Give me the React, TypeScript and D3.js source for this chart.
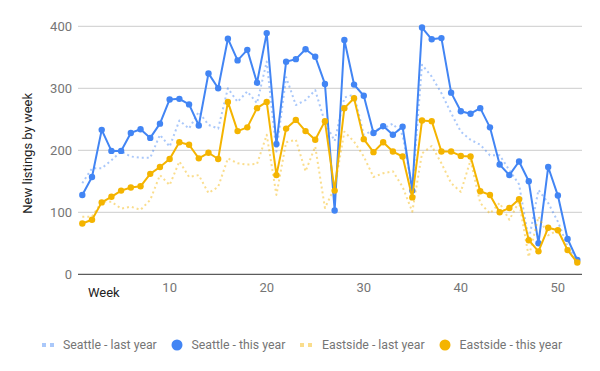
import React from "react";
import * as d3 from "d3";

const weeks = [1,2,3,4,5,6,7,8,9,10,11,12,13,14,15,16,17,18,19,20,21,22,23,24,25,26,27,28,29,30,31,32,33,34,35,36,37,38,39,40,41,42,43,44,45,46,47,48,49,50,51,52];

const seattleLast = [147,171,171,184,198,190,188,188,225,206,248,235,262,241,235,300,278,295,276,343,198,318,273,281,297,245,215,285,290,225,232,235,243,225,138,338,319,292,260,230,217,209,192,192,168,145,55,136,115,85,45,22];
const seattleThis = [128,157,233,199,199,228,234,220,243,282,283,274,240,324,300,380,345,362,309,389,210,343,347,363,351,307,103,378,306,288,228,239,225,238,135,398,379,381,293,263,259,268,237,177,160,182,150,50,173,127,57,23];
const eastsideLast = [93,93,117,117,106,109,104,120,160,144,182,157,160,131,141,187,179,177,178,225,128,213,217,166,206,107,140,230,214,190,157,163,166,141,101,195,207,179,147,133,184,115,98,115,88,117,28,93,63,71,39,20];
const eastsideThis = [82,88,116,125,135,140,142,162,173,186,213,209,187,196,186,278,231,237,268,278,160,235,249,231,217,247,135,268,284,218,197,213,198,190,124,248,247,198,198,191,190,134,128,100,107,121,55,37,75,71,39,19];

const yTicks = [0, 100, 200, 300, 400];
const xTicks = [10, 20, 30, 40, 50];

const seriesNames = ["Seattle - last year", "Seattle - this year", "Eastside - last year", "Eastside - this year"];
const seriesData = [seattleLast, seattleThis, eastsideLast, eastsideThis];

const BLUE = "#4285f4";
const ORANGE = "#f4b400";

export default function App() {
  const W = 600, H = 371;
  const x = d3.scaleLinear().domain([1, 52]).range([82.3, 577.3]);
  const y = d3.scaleLinear().domain([0, 400]).range([274.3, 26.3]);
  const font = "Roboto, 'Noto Sans', sans-serif";

  const styles = [
    { color: BLUE, dashed: true },
    { color: BLUE, dashed: false },
    { color: ORANGE, dashed: true },
    { color: ORANGE, dashed: false },
  ];

  const line = (vals: number[]) =>
    d3.line<number>().x((_, i) => x(weeks[i])).y((v) => y(v))(vals) || "";

  const legendX = [42, 177, 300, 445];
  const legendTextX = [63, 191.5, 322, 459.5];
  const ly = 345;

  return (
    <svg width={W} height={H} style={{ position: "absolute", left: 0, top: 0, fontFamily: font }}>
      <rect width={W} height={H} fill="#fff" />
      {yTicks.filter((t) => t > 0).map((t) => (
        <line key={t} x1={78} x2={582} y1={y(t)} y2={y(t)} stroke="#cccccc" strokeWidth={1} />
      ))}
      {yTicks.map((t) => (
        <text key={"yl" + t} x={72} y={y(t)} dy="0.35em" textAnchor="end" fontSize={13} fill="#757575">
          {t}
        </text>
      ))}
      <line x1={78} x2={582} y1={y(0)} y2={y(0)} stroke="#333333" strokeWidth={1} />
      {xTicks.map((t) => (
        <text key={"xl" + t} x={x(t)} y={292} textAnchor="middle" fontSize={13} fill="#757575">
          {t}
        </text>
      ))}
      <text x={88} y={297} fontSize={13} fill="#222222">Week</text>
      <text
        transform={`translate(31.5,${(y(0) + y(400)) / 2 + 3}) rotate(-90)`}
        textAnchor="middle"
        fontSize={13}
        fill="#222222"
      >
        New listings by week
      </text>

      {seriesData.map((vals, si) => {
        const s = styles[si];
        return (
          <g key={si}>
            <path
              d={line(vals)}
              fill="none"
              stroke={s.color}
              strokeOpacity={s.dashed ? 0.45 : 1}
              strokeWidth={2}
              strokeDasharray={s.dashed ? "2,3" : undefined}
              strokeLinejoin="round"
            />
            {!s.dashed &&
              vals.map((v, i) => (
                <circle key={i} cx={x(weeks[i])} cy={y(v)} r={3.2} fill={s.color} />
              ))}
          </g>
        );
      })}

      {seriesNames.map((name, si) => {
        const s = styles[si];
        return (
          <g key={"lg" + si}>
            {s.dashed ? (
              <g fill={s.color} fillOpacity={0.45}>
                <rect x={legendX[si]} y={ly - 2} width={4} height={4} />
                <rect x={legendX[si] + 8} y={ly - 2} width={4} height={4} />
              </g>
            ) : (
              <circle cx={legendX[si]} cy={ly} r={5.5} fill={s.color} />
            )}
            <text x={legendTextX[si]} y={ly} dy="0.35em" fontSize={12.3} fill="#757575">
              {name}
            </text>
          </g>
        );
      })}
    </svg>
  );
}
